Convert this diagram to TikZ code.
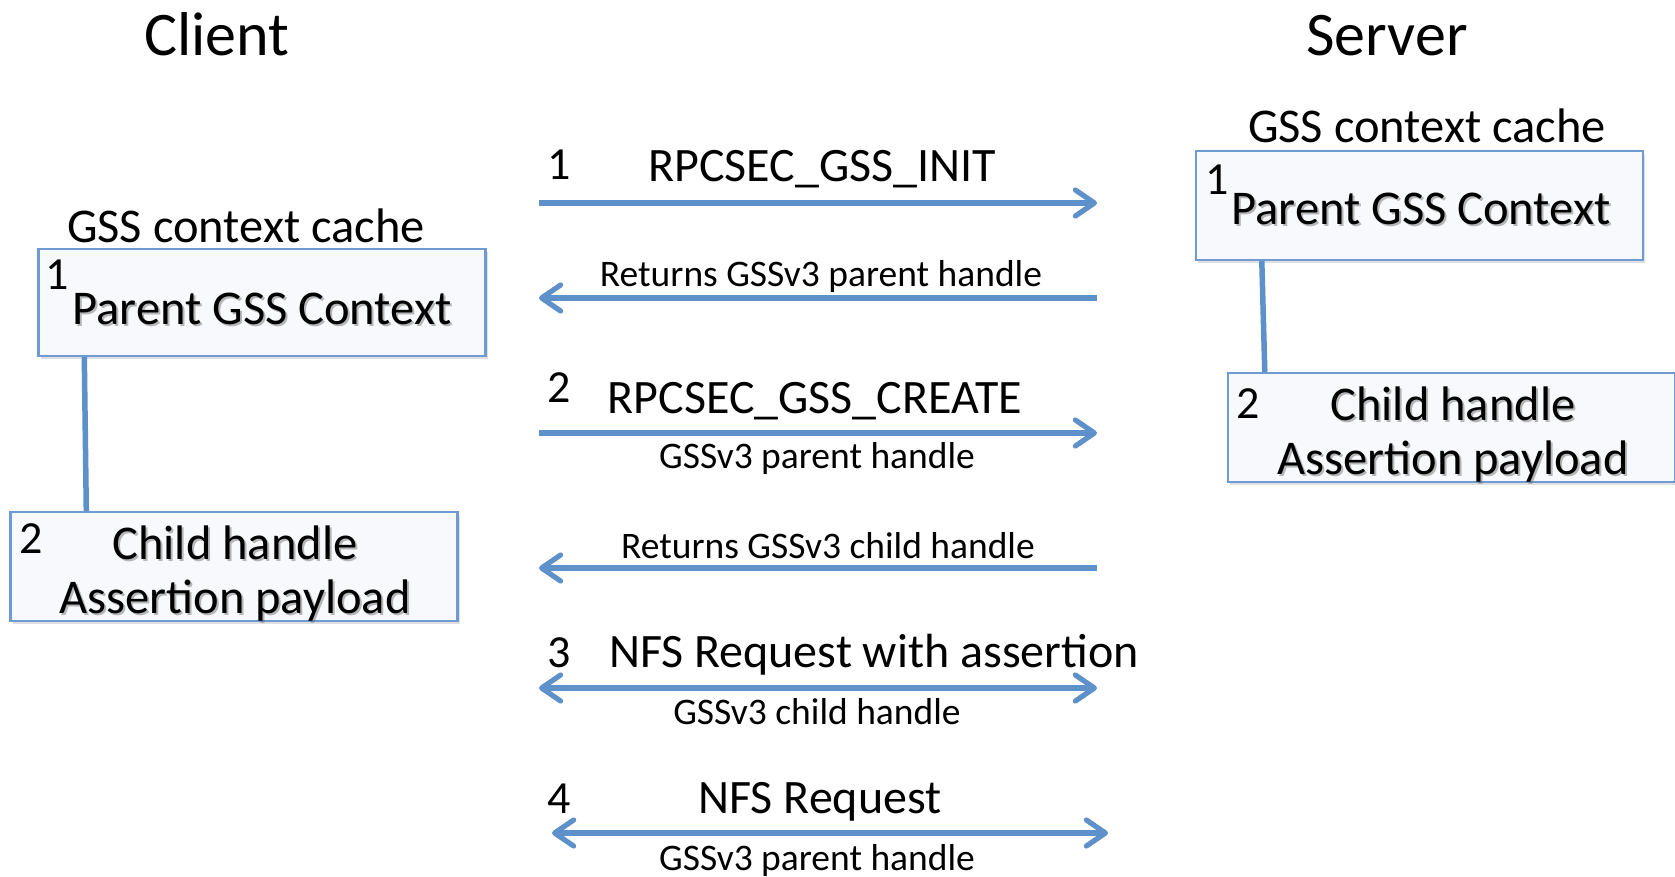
\documentclass[tikz,border=0pt]{standalone}
\usepackage{fontspec}
\setmainfont{Carlito}
\usetikzlibrary{arrows.meta,calc,shadows}
\definecolor{lineblue}{RGB}{94,144,201}
\definecolor{boxblue}{RGB}{110,155,210}
\definecolor{boxfill}{RGB}{248,249,252}
\begin{document}
\begin{tikzpicture}[x=1pt,y=-1pt,
  title/.style={font=\fontsize{62}{70}\selectfont,anchor=base},
  cachelbl/.style={font=\fontsize{48.5}{56}\selectfont,anchor=base},
  lbl/.style={font=\fontsize{48}{56}\selectfont,anchor=base},
  smlbl/.style={font=\fontsize{37.5}{44}\selectfont,anchor=base},
  numlbl/.style={font=\fontsize{46}{54}\selectfont,anchor=base},
  boxtxt/.style={font=\fontsize{48.5}{56}\selectfont,anchor=base},
  txtshadow/.style={boxtxt,text=black!60,opacity=0.45},
  cachebox/.style={draw=boxblue,line width=2.4pt,fill=boxfill,
    minimum width=447pt,minimum height=107pt,inner sep=0pt,
    drop shadow={shadow xshift=2pt,shadow yshift=-3pt,opacity=0.2,fill=black!60}},
  link/.style={draw=lineblue,line width=5.5pt},
  msg/.style={draw=lineblue,line width=5.2pt},
  tip/.style={-{Straight Barb[length=19pt,width=26pt,round]}},
  tipboth/.style={{Straight Barb[length=19pt,width=26pt,round]}-{Straight Barb[length=19pt,width=26pt,round]}}
]
\useasboundingbox[fill=white] (0,0) rectangle (1675,877);

% titles
\node[title] (tclient) at (217,56) {Client};
\node[title] (tserver) at (1387,56) {Server};

% cache labels
\node[cachelbl] (lcache) at (246,243) {GSS context cache};
\node[cachelbl] (rcache) at (1427,143) {GSS context cache};

% boxes
\node[cachebox] (lb1) at (262,302.5) {};
\node[cachebox,minimum height=109pt] (lb2) at (234,566.5) {};
\node[cachebox,minimum height=109pt] (rb1) at (1419.5,205.5) {};
\node[cachebox,minimum height=109pt] (rb2) at (1451.5,427.5) {};

% connectors between boxes
\draw[link] ($(lb1.south west)+(47,0)$) -- ($(lb2.north west)+(77,0)$);
\draw[link] ($(rb1.south west)+(67,0)$) -- ($(rb2.north west)+(38,0)$);

% left box texts
\node[numlbl] (ln1) at (57,290) {1};
\node[txtshadow] (lp1s) at (264,326) {Parent GSS Context};
\node[boxtxt] (lp1) at (262,324) {Parent GSS Context};
\node[numlbl] (ln2) at (31,553) {2};
\node[txtshadow] (lc2s) at (237,561) {Child handle};
\node[boxtxt] (lc2) at (235,559) {Child handle};
\node[txtshadow] (la2s) at (237,615) {Assertion payload};
\node[boxtxt] (la2) at (235,613) {Assertion payload};

% right box texts
\node[numlbl] (rn1) at (1217,195) {1};
\node[txtshadow] (rp1s) at (1423,227) {Parent GSS Context};
\node[boxtxt] (rp1) at (1421,225) {Parent GSS Context};
\node[numlbl] (rn2) at (1248,418) {2};
\node[txtshadow] (rc2s) at (1455,422) {Child handle};
\node[boxtxt] (rc2) at (1453,420) {Child handle};
\node[txtshadow] (ra2s) at (1455,476) {Assertion payload};
\node[boxtxt] (ra2) at (1453,474) {Assertion payload};

% message endpoints
\coordinate (m1s) at (539,203);  \coordinate (m1e) at (1097,203);
\coordinate (r1s) at (1097,298); \coordinate (r1e) at (539,298);
\coordinate (m2s) at (539,433);  \coordinate (m2e) at (1097,433);
\coordinate (r2s) at (1097,568); \coordinate (r2e) at (539,568);
\coordinate (m3s) at (539,688);  \coordinate (m3e) at (1097,688);
\coordinate (m4s) at (552,833);  \coordinate (m4e) at (1108,833);

\draw[msg,tip] (m1s) -- (m1e);
\draw[msg,tip] (r1s) -- (r1e);
\draw[msg,tip] (m2s) -- (m2e);
\draw[msg,tip] (r2s) -- (r2e);
\draw[msg,tipboth] (m3s) -- (m3e);
\draw[msg,tipboth] (m4s) -- (m4e);

% message labels
\node[numlbl] (n1) at (559,180) {1};
\node[lbl] (l1) at (822,182) {RPCSEC\_GSS\_INIT};
\node[smlbl] (l1r) at (821,287) {Returns GSSv3 parent handle};
\node[numlbl] (n2) at (559,402) {2};
\node[lbl] (l2) at (815,413) {RPCSEC\_GSS\_CREATE};
\node[smlbl] (l2b) at (817,468) {GSSv3 parent handle};
\node[smlbl] (l2r) at (828,558) {Returns GSSv3 child handle};
\node[numlbl] (n3) at (559,667) {3};
\node[lbl] (l3) at (874,667) {NFS Request with assertion};
\node[smlbl] (l3b) at (817,724) {GSSv3 child handle};
\node[numlbl] (n4) at (559,813) {4};
\node[lbl] (l4) at (820,813) {NFS Request};
\node[smlbl] (l4b) at (817,870) {GSSv3 parent handle};
\end{tikzpicture}
\end{document}
